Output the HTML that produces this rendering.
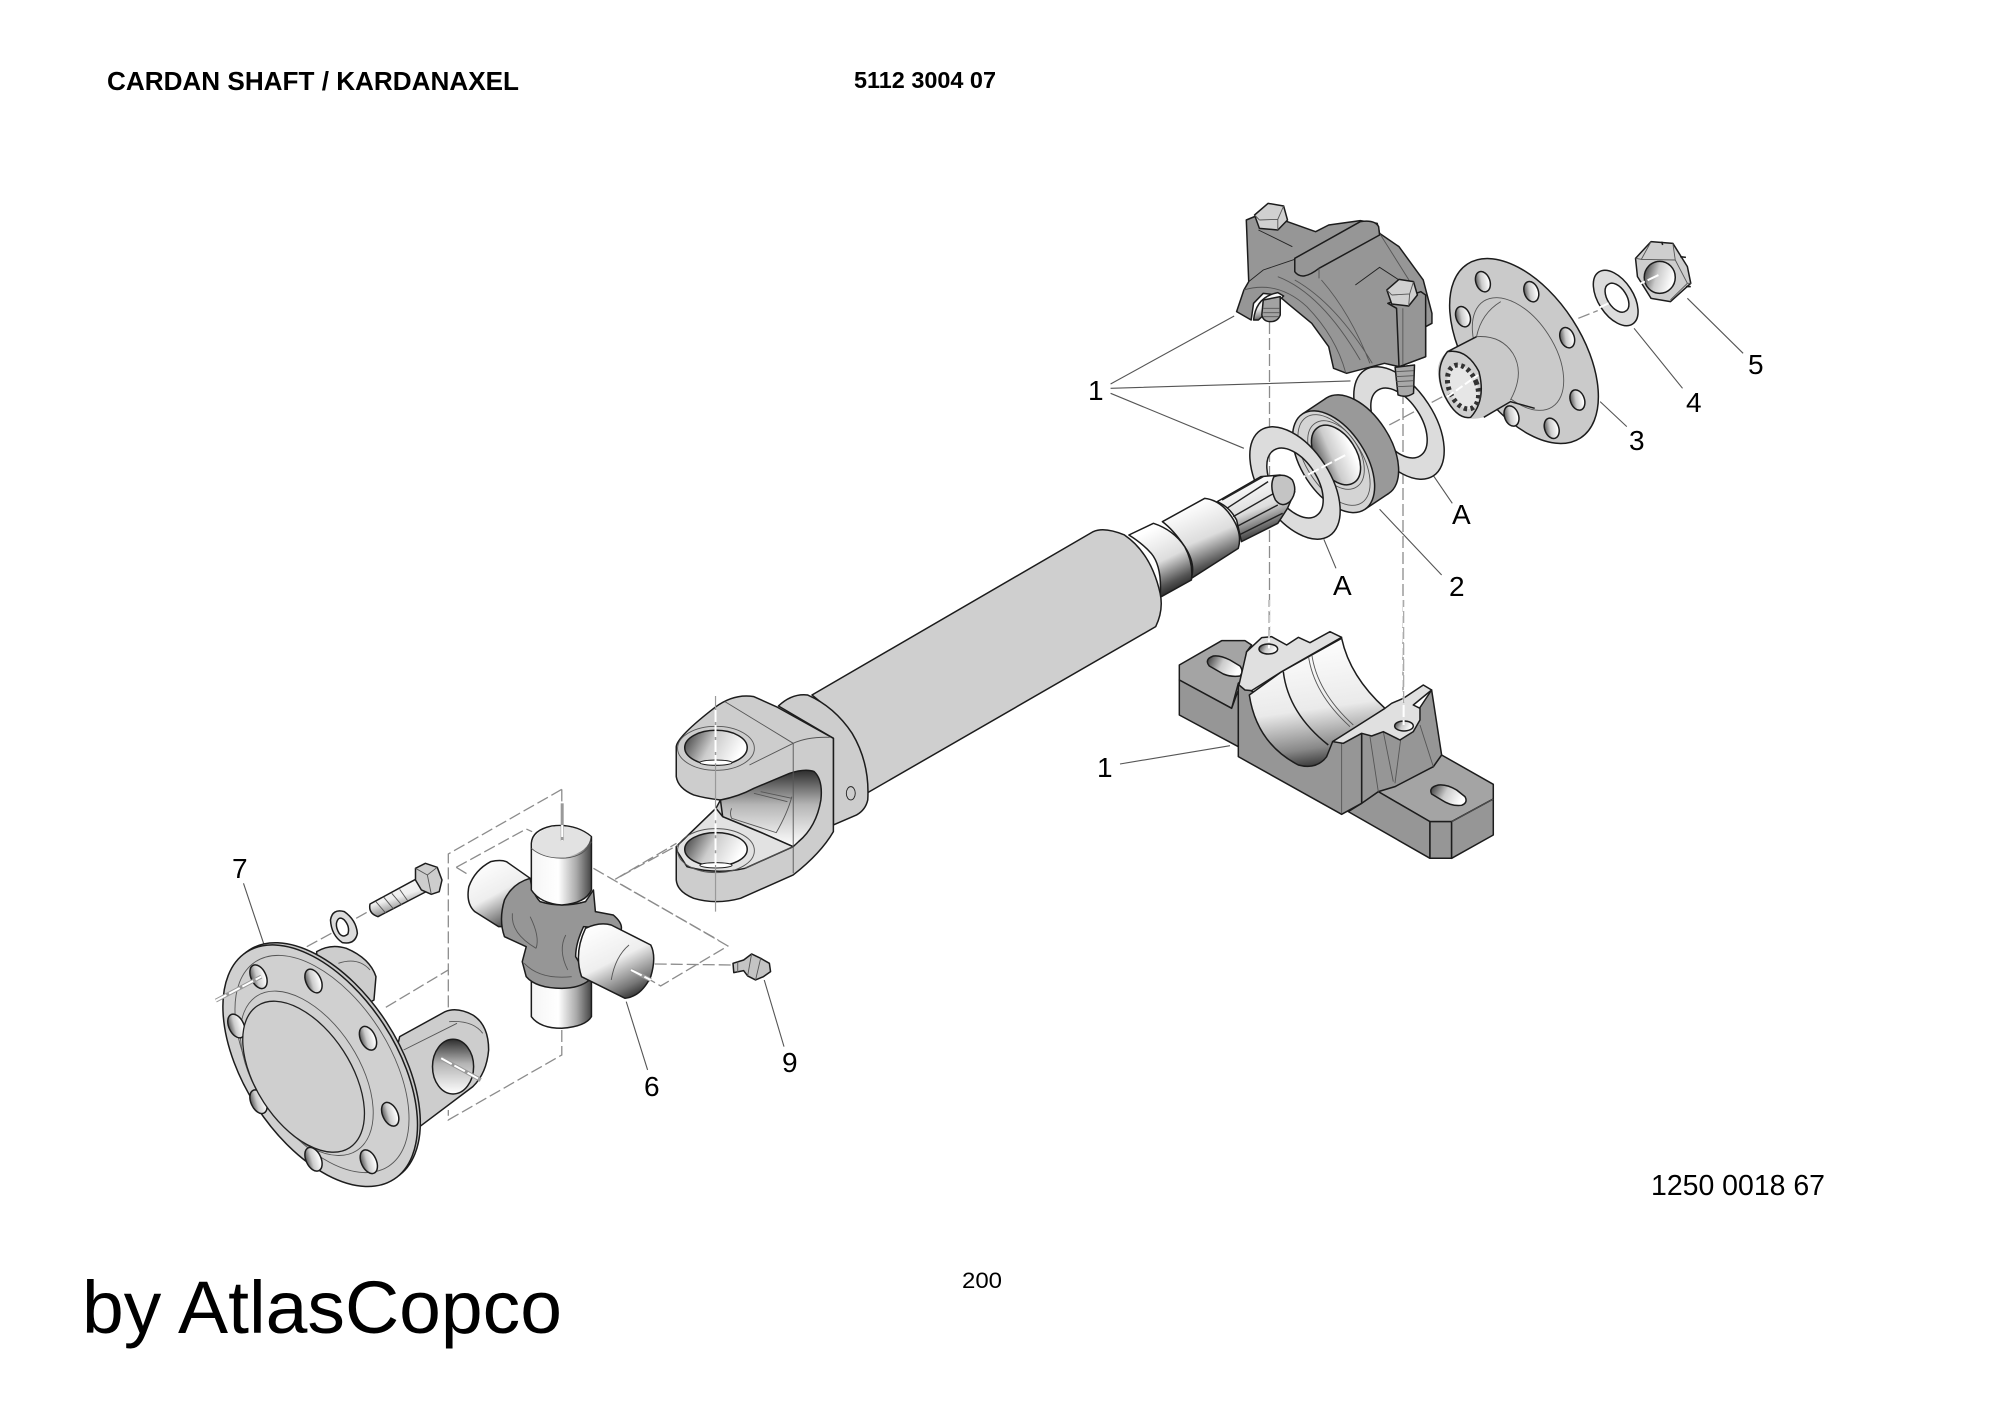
<!DOCTYPE html>
<html>
<head>
<meta charset="utf-8">
<style>
html,body{margin:0;padding:0;background:#fff}
svg{display:block}
svg *{vector-effect:non-scaling-stroke}
.p{stroke:#1c1c1c;stroke-width:1.5;stroke-linejoin:round}
.t{fill:none;stroke:#555;stroke-width:.9}
.k{stroke:#1c1c1c;stroke-width:1.5}
.d{fill:none;stroke:#8c8c8c;stroke-width:1.3;stroke-dasharray:12 4}
.w{fill:none;stroke:#fff;stroke-width:2;stroke-dasharray:12 3}
.l{fill:none;stroke:#555;stroke-width:1.1}
text{font-family:"Liberation Sans",sans-serif;fill:#000}
.n{font-size:28px}
.c{fill:#a2a2a2}.e{fill:#969696}.m{fill:#cdcdcd}.h{fill:#e0e0e0}
</style>
</head>
<body>
<svg width="2000" height="1414" viewBox="0 0 2000 1414" xmlns="http://www.w3.org/2000/svg">
<defs>
<linearGradient id="gh" x1="0" y1="0" x2="1" y2="0"><stop offset="0" stop-color="#f5f5f5"/><stop offset=".45" stop-color="#fff"/><stop offset=".75" stop-color="#aaa"/><stop offset="1" stop-color="#444"/></linearGradient>
<linearGradient id="gd" x1=".2" y1="0" x2=".7" y2="1"><stop offset="0" stop-color="#fff"/><stop offset=".5" stop-color="#eee"/><stop offset=".85" stop-color="#777"/><stop offset="1" stop-color="#333"/></linearGradient>
<linearGradient id="gn" x1=".3" y1=".1" x2=".65" y2=".95"><stop offset="0" stop-color="#fff"/><stop offset=".5" stop-color="#ddd"/><stop offset=".85" stop-color="#555"/><stop offset="1" stop-color="#2a2a2a"/></linearGradient>
<linearGradient id="gv" x1="0" y1="0" x2="0" y2="1"><stop offset="0" stop-color="#2e2e2e"/><stop offset=".45" stop-color="#b5b5b5"/><stop offset="1" stop-color="#fff"/></linearGradient>
<linearGradient id="gb" x1=".4" y1="0" x2=".55" y2="1"><stop offset="0" stop-color="#fff"/><stop offset=".55" stop-color="#eaeaea"/><stop offset=".85" stop-color="#888"/><stop offset="1" stop-color="#333"/></linearGradient>
<linearGradient id="gl" x1="0" y1="0" x2="1" y2=".3"><stop offset="0" stop-color="#333"/><stop offset=".5" stop-color="#ccc"/><stop offset="1" stop-color="#fff"/></linearGradient>
</defs>

<rect width="2000" height="1414" fill="#fff"/>

<!-- text -->
<text x="107" y="90" font-size="25.5" font-weight="700" textLength="412" lengthAdjust="spacingAndGlyphs">CARDAN SHAFT / KARDANAXEL</text>
<text x="854" y="88" font-size="23" font-weight="700" textLength="142" lengthAdjust="spacingAndGlyphs">5112 3004 07</text>
<text x="1651" y="1195" font-size="28.5" textLength="174" lengthAdjust="spacingAndGlyphs">1250 0018 67</text>
<text x="962" y="1288" font-size="22" textLength="40" lengthAdjust="spacingAndGlyphs">200</text>
<text x="82" y="1333" font-size="74" textLength="480" lengthAdjust="spacingAndGlyphs">by AtlasCopco</text>

<text class="n" x="1088" y="400">1</text>
<text class="n" x="1748" y="374">5</text>
<text class="n" x="1686" y="412">4</text>
<text class="n" x="1629" y="450">3</text>
<text class="n" x="1452" y="524">A</text>
<text class="n" x="1333" y="595">A</text>
<text class="n" x="1449" y="596">2</text>
<text class="n" x="1097" y="777">1</text>
<text class="n" x="232" y="878">7</text>
<text class="n" x="644" y="1096">6</text>
<text class="n" x="782" y="1072">9</text>

<!-- hidden axis lines -->
<path class="d" d="M1269.5 322V650"/>
<path class="d" d="M1403 392V722"/>

<!-- Z1 leaders -->
<g transform="translate(1050 180) scale(.4847 .3333)">
<path class="l" d="M125 612L380 408M125 625L620 603M125 640L400 805M1315 355L1430 520M1205 445L1305 625M1135 665L1190 740M790 885L830 970M565 1078L590 1165M680 988L808 1185"/>
<path class="d" d="M1090 415L1130 392M700 735L810 650"/>
</g>

<!-- lower housing Z2 -->
<g transform="translate(1050 600) scale(.3333)">
<path class="l" d="M210 492L540 437"/>
<path class="p" fill="#a4a4a4" d="M388 195L515 122L585 122L605 135L590 155L575 240L565 250L545 325L388 240Z"/>
<path class="p e" d="M388 240L545 325L565 270L565 440L388 345Z"/>
<path class="p" fill="url(#gl)" d="M490 168Q510 165 540 180L570 198Q582 215 570 228Q545 232 520 222L478 198Q462 178 490 168Z"/>
<path class="p" fill="#a4a4a4" d="M985 575L1150 500L1175 465L1330 553L1330 597L1205 665L1140 665Z"/>
<path class="p e" d="M895 635L935 610L985 575L1140 665L1140 775Z"/>
<path class="p e" d="M1140 665L1205 665L1205 775L1140 775Z"/>
<path class="p e" d="M1205 665L1330 597L1330 705L1205 775Z"/>
<path class="t" d="M1205 665L1330 597"/>
<path class="p" fill="url(#gl)" d="M1165 555Q1190 552 1220 570L1245 590Q1255 608 1235 616Q1205 620 1175 600L1145 582Q1135 562 1165 555Z"/>
<path class="p e" d="M935 400L1000 395L1105 330L1145 270L1175 465L1150 500L1035 560L985 575L935 610Z"/>
<path class="t" d="M960 410L985 575M1000 395L1030 545M1052 420L1035 550M1110 375L1150 500"/>
<path class="p e" d="M565 250L875 430L935 400L935 610L875 643L565 470Z"/>
<path class="t" d="M875 430V640"/>
<path class="p" fill="url(#gb)" d="M598 285Q620 430 745 495Q800 510 830 470L848 425L945 365L1005 325Q900 230 875 115L695 215Z"/>
<path d="M700 215Q715 340 835 435" fill="none" stroke="#1c1c1c" stroke-width="1.5"/>
<path class="t" d="M775 165Q790 280 900 380M785 160Q800 275 910 375"/>
<path class="p h" d="M567 255L590 155L635 113L665 110L710 135L745 112L780 128L840 95L875 112L695 215L605 272L585 270Z"/>
<path class="p h" d="M848 425L880 430L935 400L965 408L1000 395L1050 420L1090 395L1110 360L1110 325L1090 315L1145 270L1120 255L1060 295L1025 310L1005 325Z"/>
<ellipse class="p" fill="url(#gl)" cx="655" cy="147" rx="28" ry="15"/>
<ellipse class="p" fill="url(#gl)" cx="1062" cy="378" rx="28" ry="15"/>
<path class="w" d="M657 0V145M1061 0V375"/>
<path class="d" stroke-dashoffset="5" d="M657 0V115M1061 0V310" style="stroke:#aaa"/>
</g>

<!-- upper housing Z1 -->
<g transform="translate(1050 180) scale(.4847 .3333)">
<path class="p e" d="M385 395L400 330L410 305L405 120L430 105L490 125L548 155L575 135L640 122L675 130L680 160L720 200L770 300L788 400L788 430L775 440L775 530L720 560L690 550L612 580L585 565L575 500L540 430L490 370L470 345L440 340L420 370L415 420Z"/>
<path class="p" fill="url(#gb)" d="M420 420Q425 350 470 338L482 348L430 420Z"/>
<path class="p c" d="M440 360L475 350L475 405Q470 425 455 425Q440 425 437 405Z"/>
<path class="t" d="M440 385L473 385M440 398L473 398M440 410L473 410"/>
<path class="t" d="M400 330Q470 300 530 380Q590 470 610 578M470 290Q560 340 640 540M505 300Q590 370 665 550M560 300Q620 400 660 550M680 160L760 345"/>
<path class="t" d="M430 150L500 200M410 305L440 270L505 238" style="stroke:#222"/>
<path class="p e" d="M505 235L640 125Q670 118 678 140L680 165L555 265Q520 305 505 275Z"/>
<path class="t" d="M555 265V295"/>
<path class="t" d="M630 315L680 262L720 300" style="stroke:#222"/>
<path class="p e" d="M697 370L765 335L775 345L775 530L720 560L715 385Z"/>
<path class="t" d="M728 385V555"/>
<!-- bolt heads -->
<path class="p" fill="#d0d0d0" d="M422 105L450 70L482 78L490 120L470 150L432 145Z"/>
<path class="t" d="M432 120L470 118L482 78M470 118L470 150M432 120L422 105"/>
<path class="p" fill="#d0d0d0" d="M695 330L720 298L750 305L758 345L740 378L705 372Z"/>
<path class="t" d="M705 345L742 342L750 305M742 342L740 378M705 345L695 330"/>
</g>

<!-- rear washer -->
<path class="p" fill="#dcdcdc" fill-rule="evenodd" d="M1364.7 370.1A35 63 -33 1 0 1433.3 475.9A35 63 -33 1 0 1364.7 370.1ZM1377.7 390.3A22 39 -33 1 0 1420.3 455.7A22 39 -33 1 0 1377.7 390.3Z"/>

<!-- bolt thread over washer -->
<g transform="translate(1050 180) scale(.4847 .3333)">
<path class="p" fill="#a8a8a8" d="M712 562L752 555L750 640Q735 655 718 645Z"/>
<path class="t" d="M714 575L750 572M714 590L750 587M714 605L750 602M716 620L750 618"/>
</g>

<!-- bearing -->
<ellipse class="p" fill="#999" cx="1357.6" cy="445.7" rx="32" ry="57" transform="rotate(-33 1357.6 445.7)"/>
<path fill="#999" d="M1302.6 413.9L1326.6 397.9L1388.6 493.5L1364.6 509.5Z"/>
<path d="M1302.6 413.9L1326.6 397.9M1388.6 493.5L1364.6 509.5" stroke="#1c1c1c" stroke-width="1.5" fill="none"/>
<ellipse class="p" fill="#d4d4d4" cx="1333.6" cy="461.7" rx="32" ry="57" transform="rotate(-33 1333.6 461.7)"/>
<ellipse class="t" cx="1334" cy="460" rx="27.5" ry="51" transform="rotate(-33 1334 460)"/>
<ellipse class="t" cx="1336" cy="455" rx="23" ry="38" transform="rotate(-33 1336 455)"/>
<ellipse class="p" fill="url(#gl)" cx="1336" cy="455" rx="20" ry="33" transform="rotate(-33 1336 455)"/>

<!-- front washer -->
<path class="p" fill="#dcdcdc" fill-rule="evenodd" d="M1260.7 430.1A35 63 -33 1 0 1329.3 535.9A35 63 -33 1 0 1260.7 430.1ZM1273.7 450.3A22 39 -33 1 0 1316.3 515.7A22 39 -33 1 0 1273.7 450.3Z"/>

<!-- spline end, necks -->
<g transform="translate(1050 180) scale(.4847 .3333)">
<path class="w" d="M505 905L610 825"/>
<path class="p" fill="url(#gn)" d="M345 965L435 890L475 885L505 935L490 985L470 1030L395 1085L385 1020Q370 980 345 965Z"/>
<path d="M355 960L440 890M365 985L450 905M378 1010L462 940M385 1040L470 975M390 1065L480 1000" fill="none" stroke="#222" stroke-width="1.4"/>
<path class="p" fill="#c4c4c4" d="M462 890Q485 878 500 900Q512 935 495 965Q478 985 465 960Q452 920 462 890Z"/>
</g>

<!-- tube Z3 -->
<g transform="translate(620 480) scale(.4464 .3333)">
<path class="p" fill="url(#gn)" d="M1215 125L1310 55Q1345 60 1370 110Q1395 160 1385 205L1280 295Q1290 250 1265 200Q1240 150 1215 125Z"/>
<path class="p" fill="url(#gn)" d="M1140 165L1195 130Q1240 150 1265 200Q1285 250 1280 300L1210 352Q1215 260 1190 220Q1170 190 1140 165Z"/>
<path class="p" fill="#cfcfcf" d="M430 645L1060 155Q1085 140 1130 165Q1190 220 1210 340Q1218 390 1200 440L555 938L480 700Z"/>
<path class="p" fill="#cdcdcd" d="M355 678Q385 640 420 645Q480 680 520 760Q560 850 555 960Q550 990 530 1005L478 1035L478 775Z"/>

<!-- yoke -->
<path class="p" fill="#cdcdcd" d="M126 800Q128 770 213 682Q255 640 300 650L350 680L478 775L478 1055Q450 1120 388 1185L270 1255Q215 1275 165 1255Q128 1235 126 1200L126 1100L215 985L225 960Q190 955 165 945Q130 925 126 890Z"/>
<path class="p" fill="url(#gv)" d="M225 960Q265 950 300 925L380 880Q415 865 435 875Q455 900 450 960Q440 1040 400 1085L388 1100L320 1060L230 1010Z"/>
<path class="p" fill="#e2e2e2" d="M126 1100L215 985L230 1010L320 1060L388 1100L280 1165Q215 1185 150 1160L126 1110Z"/>
<path class="t" d="M235 665L388 790L388 1180M388 790L290 855M388 790Q420 770 470 772M388 1100L280 1165M250 985Q245 1000 250 1015L350 1058Q375 1000 385 950M300 940L375 965M315 935L385 955"/>
<ellipse class="t" cx="215" cy="805" rx="86" ry="66"/>
<ellipse class="k" cx="215" cy="803" rx="70" ry="52" style="fill:url(#gl)"/>
<ellipse cx="215" cy="848" rx="36" ry="8" fill="#fff" stroke="#1c1c1c" stroke-width="1"/>
<ellipse class="t" cx="215" cy="1112" rx="86" ry="66"/>
<ellipse class="k" cx="215" cy="1108" rx="70" ry="50" style="fill:url(#gl)"/>
<ellipse cx="215" cy="1156" rx="36" ry="8" fill="#fff" stroke="#1c1c1c" stroke-width="1"/>
<ellipse class="t" cx="517" cy="940" rx="10" ry="20" style="stroke:#222"/>
<path d="M214 648V1295" fill="none" stroke="#999" stroke-width="1.2"/>
<path class="w" d="M214 690V850M214 985V1155"/>
<path class="d" d="M0 1190L130 1095M0 1212L220 1380"/>
</g>

<!-- flange 3 -->
<ellipse class="p" fill="#cacaca" cx="1524" cy="351" rx="57.7" ry="103.7" transform="rotate(-33 1524 351)"/>
<ellipse class="t" cx="1518" cy="354" rx="36" ry="63" transform="rotate(-33 1518 354)"/>
<g class="p" fill="url(#gl)" stroke-width="1.2">
<ellipse cx="1482.9" cy="281.7" rx="7" ry="10.5" transform="rotate(-20 1482.9 281.7)"/>
<ellipse cx="1531.3" cy="291.7" rx="7" ry="10.5" transform="rotate(-20 1531.3 291.7)"/>
<ellipse cx="1463" cy="316.7" rx="7" ry="10.5" transform="rotate(-20 1463 316.7)"/>
<ellipse cx="1567.2" cy="337.7" rx="7" ry="10.5" transform="rotate(-20 1567.2 337.7)"/>
<ellipse cx="1577.4" cy="400" rx="7" ry="10.5" transform="rotate(-20 1577.4 400)"/>
<ellipse cx="1551.7" cy="428.3" rx="7" ry="10.5" transform="rotate(-20 1551.7 428.3)"/>
<ellipse cx="1511.5" cy="416" rx="7" ry="10.5" transform="rotate(-20 1511.5 416)"/>
</g>
<g transform="translate(1050 180) scale(.4847 .3333)">
<path fill="#c9c9c9" d="M820 515L880 470Q930 465 955 520Q980 580 950 660L895 712Q860 725 840 700Q800 640 800 570Q802 535 820 515Z"/>
<path d="M820 515L880 470M895 712L950 665L1000 685" fill="none" stroke="#1c1c1c" stroke-width="1.5"/>
<path class="t" d="M880 470Q890 400 930 365M880 470Q930 465 955 520Q980 580 950 660"/>
<path class="p" fill="#d0d0d0" d="M820 515Q860 505 885 575Q900 660 868 712Q840 720 815 650Q790 570 820 515Z"/>
</g>
<ellipse cx="1463" cy="387" rx="14" ry="23" fill="#e6e6e6" stroke="#333" stroke-width="5" stroke-dasharray="3.4 3.4" transform="rotate(-22 1463 387)"/>
<path d="M1447 397L1478 375" fill="none" stroke="#fff" stroke-width="2" stroke-dasharray="8 3"/>

<!-- lock washer 4 -->
<path class="p" fill="#dcdcdc" fill-rule="evenodd" d="M1598.8 272A17.5 31 -33 1 0 1632.6 324A17.5 31 -33 1 0 1598.8 272ZM1608.3 284.3A9 16 -33 1 0 1625.7 311.1A9 16 -33 1 0 1608.3 284.3Z"/>

<!-- nut 5 Z1 -->
<g transform="translate(1050 180) scale(.4847 .3333)">
<path class="p" fill="#cecece" d="M1208 235L1240 185L1285 190L1315 260L1322 310L1280 365L1240 355L1212 290Z"/>
<path class="t" d="M1240 185L1220 238L1208 235M1220 238L1290 240L1285 190M1290 240L1315 310L1322 310M1315 310L1280 360"/>
<path d="M1262 185L1264 195M1300 230L1312 232M1312 320L1322 320" fill="none" stroke="#1c1c1c" stroke-width="1.5"/>
<ellipse class="k" cx="1258" cy="292" rx="32" ry="48" style="fill:url(#gl)"/>
<path class="w" d="M1205 320L1260 282"/>
<path class="w" d="M1130 385L1160 365"/>
</g>

<!-- dashed universal joint -->
<g transform="translate(200 780) scale(.3954 .3333)">
<path class="l" d="M110 310L165 505M1078 665L1132 870M1427 600L1477 800"/>
<path class="d" d="M915 28L628 222V685M915 28V140M648 262L825 147L840 155M648 262L680 285M995 265L1335 498L1165 618L1095 570M1050 298L1205 190M1150 552L1345 555M915 750V825L628 1020V990M470 682L628 570M270 500L340 455M395 415L440 385"/>

<!-- rear ear -->
<path class="p m" d="M295 515Q330 490 370 505Q430 535 445 590L440 660L380 700L300 650Z"/>
<path class="t" d="M350 550Q400 530 430 570"/>
<path class="p m" d="M505 770L620 695Q650 680 690 705Q730 735 730 810Q725 880 690 920L550 1045L480 900Z"/>
<path class="t" d="M630 725Q690 720 715 760M515 810L650 730"/>
<ellipse class="k" cx="640" cy="860" rx="52" ry="82" style="fill:url(#gv)"/>
</g>

<!-- flange 7 -->
<ellipse class="p" fill="#c8c8c8" cx="323" cy="1063.5" rx="75.7" ry="135.4" transform="rotate(-33 323 1063.5)"/>
<ellipse class="p" fill="#d0d0d0" cx="320.2" cy="1065.7" rx="75.7" ry="135.4" transform="rotate(-33 320.2 1065.7)"/>
<ellipse class="t" cx="322" cy="1064" rx="67" ry="122" transform="rotate(-33 322 1064)"/>
<ellipse class="t" cx="306.8" cy="1073.3" rx="52" ry="92" transform="rotate(-33 306.8 1073.3)"/>
<g class="p" fill="url(#gl)" stroke-width="1.2">
<ellipse cx="258.5" cy="976.7" rx="7.5" ry="12.6" transform="rotate(-25 258.5 976.7)"/>
<ellipse cx="313.5" cy="981" rx="7.5" ry="12.6" transform="rotate(-25 313.5 981)"/>
<ellipse cx="236.4" cy="1026" rx="7.5" ry="12.6" transform="rotate(-25 236.4 1026)"/>
<ellipse cx="368" cy="1038.3" rx="7.5" ry="12.6" transform="rotate(-25 368 1038.3)"/>
<ellipse cx="390.2" cy="1114.3" rx="7.5" ry="12.6" transform="rotate(-25 390.2 1114.3)"/>
<ellipse cx="313.5" cy="1159.3" rx="7.5" ry="12.6" transform="rotate(-25 313.5 1159.3)"/>
<ellipse cx="368.8" cy="1161.7" rx="7.5" ry="12.6" transform="rotate(-25 368.8 1161.7)"/>
<ellipse cx="258.5" cy="1101.7" rx="7.5" ry="12.6" transform="rotate(-25 258.5 1101.7)"/>
</g>
<ellipse fill="#cfcfcf" stroke="#222" stroke-width="1.3" cx="303.6" cy="1076.7" rx="47.4" ry="84.6" transform="rotate(-33 303.6 1076.7)"/>

<g transform="translate(200 780) scale(.3954 .3333)">
<path d="M40 662L155 590M610 835L710 900" fill="none" stroke="#999" stroke-width="4"/>
<path class="w" d="M40 662L155 590M610 835L710 900"/>

<!-- bolt -->
<path class="p" fill="url(#gd)" d="M430 372L550 295L580 330L450 410Q425 400 430 372Z"/>
<path class="t" d="M445 365L470 400M465 352L490 388M485 340L510 375M505 328L525 362"/>
<path class="p" fill="#cdcdcd" d="M545 265L570 250L600 262L612 300L605 335L585 343L560 330L545 300Z"/>
<path class="t" d="M545 265L575 285L600 262M575 285L585 343"/>
<!-- lock washer -->
<path class="p" fill="#dcdcdc" fill-rule="evenodd" d="M330 420Q335 385 365 395Q395 420 398 460Q392 495 360 488Q332 465 330 420ZM345 430Q350 405 365 420Q380 440 374 462Q362 475 352 460Q344 445 345 430Z"/>
<!-- nipple -->
<path class="p" fill="#c4c4c4" d="M1348 550L1375 540L1395 522L1418 535L1440 550L1443 575L1425 590L1405 600L1385 588L1375 572L1350 578Z"/>
<path class="t" d="M1395 522L1385 588M1418 535L1405 600M1360 545V578"/>

<!-- cross -->
<path class="p" fill="url(#gd)" d="M735 245Q760 238 775 245L835 295L770 440L755 440L695 395Q672 370 680 320Q695 270 735 245Z"/>
<path class="p" fill="url(#gh)" d="M838 600V710Q860 745 915 745Q975 740 990 710V600Z"/>
<path class="p e" d="M835 295Q840 340 860 365Q915 385 975 365L995 330L1000 395L1045 405Q1070 430 1065 450L970 440Q950 490 950 530L985 600Q960 625 915 625Q850 625 825 590L815 545L825 500L770 470Q755 420 770 360Q790 310 835 295Z"/>
<path class="t" d="M790 400Q785 460 850 505M835 410Q860 470 850 505M925 465Q905 510 930 570M820 550Q860 600 940 590"/>
<path class="p" fill="url(#gh)" d="M838 190Q840 150 890 138Q950 130 990 170V330Q975 370 915 375Q860 370 838 330Z"/>
<path fill="#e2e2e2" d="M840 190Q845 155 890 140Q950 133 988 170Q985 215 925 232Q870 236 840 205Z"/>
<path class="t" d="M838 205Q870 238 925 234Q975 228 990 185"/>
<path class="p" fill="url(#gd)" d="M975 445Q1010 425 1040 435L1140 495Q1155 530 1140 590Q1115 650 1075 655L965 590Q945 520 975 445Z"/>
<path class="t" d="M1040 600Q1050 530 1085 495"/>
<path d="M1090 570L1140 600" fill="none" stroke="#999" stroke-width="4"/>
<path class="w" d="M1090 570L1140 600"/>
<path d="M916 70V182" fill="none" stroke="#999" stroke-width="3"/>
<path class="w" d="M916 135V182"/>
</g>
</svg>
</body>
</html>
